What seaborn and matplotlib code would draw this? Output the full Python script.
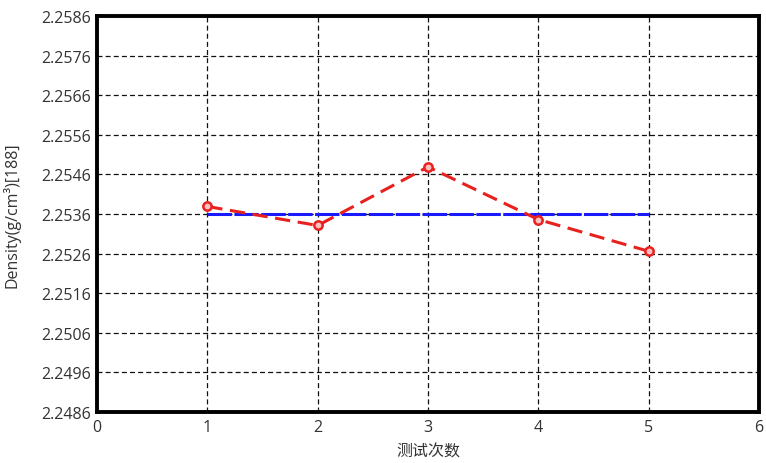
import matplotlib
matplotlib.use("Agg")
import matplotlib.pyplot as plt
import seaborn as sns
import numpy as np
import pandas as pd

trials = [1, 2, 3, 4, 5]
density = [2.25379, 2.25331, 2.25479, 2.25346, 2.25266]
mean_density = [2.2536] * 5
xticks = [0, 1, 2, 3, 4, 5, 6]
yticks = [2.2486, 2.2496, 2.2506, 2.2516, 2.2526, 2.2536, 2.2546, 2.2556, 2.2566, 2.2576, 2.2586]

sns.set_style("white")
plt.rcParams['font.family'] = ['Open Sans', 'Noto Sans CJK SC', 'DejaVu Sans']

fig = plt.figure(figsize=(7.66, 4.64), dpi=100)
ax = fig.add_axes([97 / 766, 1 - 413 / 464, 662 / 766, 396 / 464])

df = pd.DataFrame({"trial": trials, "density": density, "mean": mean_density})
sns.lineplot(data=df, x="trial", y="mean", ax=ax, color="#1a1aff", lw=2.2,
             linestyle=(0, (8, 0.8)), zorder=3)
sns.lineplot(data=df, x="trial", y="density", ax=ax, color="#e8201e", lw=2.2,
             linestyle=(0, (5, 2.5)), marker="o", markersize=6,
             markerfacecolor="#ffc0c0", markeredgecolor="#e8201e", markeredgewidth=1.8,
             zorder=4)

ax.set_xlim(0, 6)
ax.set_ylim(2.2486, 2.2586)
ax.set_xticks(xticks)
ax.set_yticks(yticks)
ax.set_xticklabels([str(t) for t in xticks])
ax.set_yticklabels([f"{t:.4f}" for t in yticks])
ax.grid(True, color="#111111", linestyle=(0, (4, 2.5)), lw=0.9)
ax.set_axisbelow(True)
for s in ax.spines.values():
    s.set_visible(True)
    s.set_color("black")
    s.set_linewidth(2.8)
ax.tick_params(axis="y", direction="out", length=3, width=0.8, labelsize=11.5, colors="#333333", pad=1)
ax.tick_params(axis="x", direction="out", length=0, labelsize=11.5, colors="#333333", pad=5)
ax.set_xlabel("测试次数", fontsize=11.5, labelpad=6, color="#333333")
ax.set_ylabel("Density(g/cm³)[188]", fontsize=11.5, labelpad=15, color="#333333")

fig.savefig("out.png", dpi=100)
